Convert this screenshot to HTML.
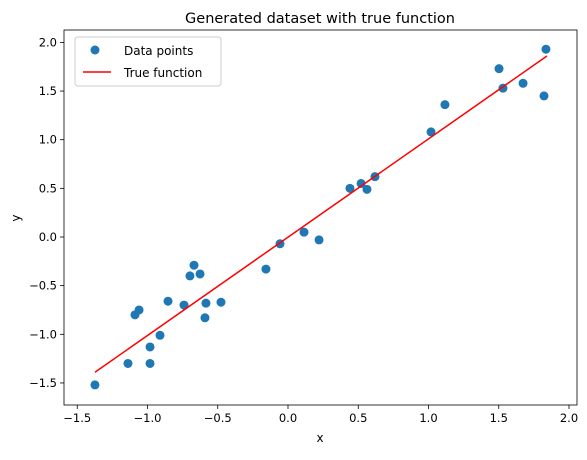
<!DOCTYPE html>
<html><head><meta charset="utf-8"><style>
body{margin:0;background:#fff;font-family:"Liberation Sans","DejaVu Sans",sans-serif;}
svg text{font-family:"DejaVu Sans","Liberation Sans",sans-serif;}
</style></head><body>
<svg id="chart" width="587" height="455" xmlns="http://www.w3.org/2000/svg"></svg>
<script>
const xData=[-1.374,-1.139,-1.089,-1.060,-0.982,-0.982,-0.911,-0.854,-0.740,-0.698,-0.669,-0.626,-0.591,-0.584,-0.477,-0.157,-0.057,0.114,0.221,0.441,0.520,0.562,0.619,1.018,1.117,1.502,1.530,1.673,1.822,1.836];
const yData=[-1.52,-1.30,-0.80,-0.75,-1.13,-1.30,-1.01,-0.66,-0.70,-0.40,-0.29,-0.38,-0.83,-0.68,-0.67,-0.33,-0.07,0.05,-0.03,0.50,0.55,0.49,0.62,1.08,1.36,1.73,1.53,1.58,1.45,1.93];
const lineX=[-1.374,1.843];
const lineY=[-1.39,1.86];
const xTicks=[-1.5,-1.0,-0.5,0.0,0.5,1.0,1.5,2.0];
const yTicks=[-1.5,-1.0,-0.5,0.0,0.5,1.0,1.5,2.0];
const xTickLabels=["−1.5","−1.0","−0.5","0.0","0.5","1.0","1.5","2.0"];
const yTickLabels=["−1.5","−1.0","−0.5","0.0","0.5","1.0","1.5","2.0"];

const L=64,R=577,T=30,B=405;
const sx=v=>288+v*140.5;
const sy=v=>237-v*97.3;
const svg=document.getElementById('chart');
const NS="http://www.w3.org/2000/svg";
function mk(tag,attrs,parent){const e=document.createElementNS(NS,tag);for(const k in attrs)e.setAttribute(k,attrs[k]);(parent||svg).appendChild(e);return e;}

let t=mk('text',{x:320,y:23,'font-size':14.5,'text-anchor':'middle',fill:'#000'});
t.textContent='Generated dataset with true function';



xTicks.forEach((v,i)=>{
  const x=sx(v);
  const l=mk('line',{x1:x,x2:x,y1:B,y2:B+4,stroke:'#000','stroke-width':0.8});
  
  
  const tx=mk('text',{x:x,y:B+17,'font-size':11.5,'text-anchor':'middle',fill:'#000'});
  tx.textContent=xTickLabels[i];
  
  
});
yTicks.forEach((v,i)=>{
  const y=sy(v);
  const l=mk('line',{x1:L-4,x2:L,y1:y,y2:y,stroke:'#000','stroke-width':0.8});
  
  
  const tx=mk('text',{x:L-7,y:y+4,'font-size':11.5,'text-anchor':'end',fill:'#000'});
  tx.textContent=yTickLabels[i];
  
  
});
let xl=mk('text',{x:320,y:442,'font-size':12,'text-anchor':'middle',fill:'#000'});
xl.textContent='x';


let yl=mk('text',{x:20,y:218,'font-size':12,'text-anchor':'middle',fill:'#000',transform:'rotate(-90 20 218)'});
yl.textContent='y';



xData.forEach((v,i)=>{
  const c=mk('circle',{cx:sx(v),cy:sy(yData[i]),r:4.5,fill:'#1f77b4'});
  
  
});
const ln=mk('line',{x1:sx(lineX[0]),y1:sy(lineY[0]),x2:sx(lineX[1]),y2:sy(lineY[1]),stroke:'#ff0000','stroke-width':1.5});



const frame=mk('rect',{x:L,y:T,width:R-L,height:B-T,fill:'none',stroke:'#000','stroke-width':0.8});



const lg=mk('g',{});


mk('rect',{x:75,y:37,width:146,height:49,rx:3,fill:'#fff','fill-opacity':0.8,stroke:'#ccc','stroke-width':1},lg);
const lc=mk('circle',{cx:95,cy:50,r:4.5,fill:'#1f77b4'},lg);


const lt1=mk('text',{x:124,y:55,'font-size':12,fill:'#000'},lg);
lt1.textContent='Data points';


const ll=mk('line',{x1:83,x2:111,y1:72,y2:72,stroke:'#ff0000','stroke-width':1.5},lg);


const lt2=mk('text',{x:124,y:77,'font-size':12,fill:'#000'},lg);
lt2.textContent='True function';


</script>
</body></html>
